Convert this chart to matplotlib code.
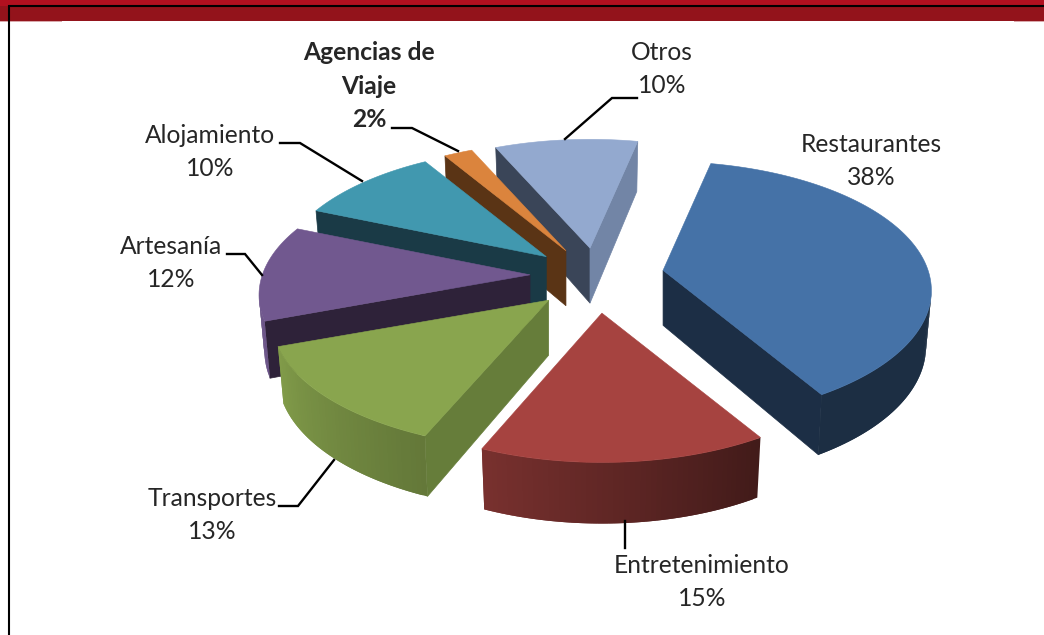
import numpy as np
import matplotlib
matplotlib.use("Agg")
import matplotlib.pyplot as plt
from matplotlib.colors import to_rgb
from matplotlib.patches import Polygon, Rectangle

plt.rcParams["font.family"] = ["Lato", "DejaVu Sans"]

# data, clockwise from the first slice
labels = ["Restaurantes", "Entretenimiento", "Transportes", "Artesanía",
          "Alojamiento", "Agencias de\nViaje", "Otros"]
values = [38, 15, 13, 12, 10, 2, 10]
top_colors = ["#4572a7", "#a64340", "#89a54e", "#71588f", "#4198af", "#db843d", "#93a9cf"]
start_wall = ["#1c2e45", "#42191a", "#667d3a", "#2e2239", "#1a3a46", "#5a3415", "#3a4558"]
end_wall = ["#1c2e45", "#42191a", "#667d3a", "#2e2239", "#1a3a46", "#5a3415", "#7285a6"]
# drawn back to front
draw_order = [6, 5, 4, 3, 2, 0, 1]
# the left slices reach a little further than the perspective model gives
x_stretch = [1, 1, 1.03, 1.01, 1, 1, 1]

# label text centre + leader line, in pixels of the 1044x635 canvas
label_pos = [(871, 161), (702, 582), (212, 515), (171, 263), (210, 152), (369, 86), (662, 69)]
leaders = [
    None,
    [(625, 521), (625, 548)],
    [(279, 506), (298, 506), (334, 460)],
    [(227, 254), (245, 254), (262, 275)],
    [(280, 143), (300, 143), (362, 181)],
    [(392, 128), (412, 128), (458, 151)],
    [(565, 139), (612, 98), (637, 98)],
]

# pie geometry
CX, CY = 597, 275.5
R, TILT, PERSP = 265, 0.475, 0.157
EXPLODE_PX = 67
DEPTH = 55
FIRST_ANGLE = 12


def ray(theta):
    # theta in degrees, clockwise from the back of the pie
    t = np.radians(theta)
    s = 1 / (1 + PERSP * np.cos(t))
    return R * np.sin(t) * s, -R * TILT * np.cos(t) * s


def depth_at(theta):
    return DEPTH / (1 + 0.1 * np.cos(np.radians(theta)))


def rim_shade(theta):
    return np.interp(theta, [90, 149, 203, 250, 290], [0.4, 0.4, 0.73, 0.95, 0.95])


fig = plt.figure(figsize=(10.44, 6.35), dpi=100)
ax = fig.add_axes([0, 0, 1, 1])
ax.set_xlim(0, 1044)
ax.set_ylim(635, 0)
ax.axis("off")

# slide header and frame
ax.add_patch(Rectangle((0, 0), 1044, 6, color="#b1101f", lw=0))
ax.add_patch(Rectangle((0, 6), 1044, 15, color="#93131b", lw=0))
ax.add_patch(Rectangle((0, 21), 62, 1.2, color="#d9a8ab", lw=0))
ax.add_patch(Rectangle((1014, 21), 30, 1.2, color="#d9a8ab", lw=0))
ax.plot([1044, 9, 9], [6, 6, 635], color="black", lw=1.5, solid_joinstyle="miter")

edges = FIRST_ANGLE + 3.6 * np.concatenate([[0], np.cumsum(values)])


def wall(ax_x, ax_y, dx, dy, theta, color):
    pts = [(ax_x, ax_y), (ax_x + dx, ax_y + dy),
           (ax_x + 0.98 * dx, ax_y + dy + depth_at(theta)), (ax_x, ax_y + DEPTH)]
    ax.add_patch(Polygon(pts, closed=True, fc=color, ec=color, lw=0.5))


for i in draw_order:
    a0, a1 = edges[i], edges[i + 1]
    mid = np.radians((a0 + a1) / 2)
    ax_x = CX + EXPLODE_PX * np.sin(mid)
    ax_y = CY + ray(np.degrees(mid))[1] * EXPLODE_PX / R
    thetas = np.linspace(a0, a1, int(max(a1 - a0, 4)) + 1)
    dx, dy = ray(thetas)
    dx = dx * x_stretch[i]

    # flat sides, only those that face the viewer
    sx, sy = ray(a0)
    ox, oy = ray(a1)
    sx, ox = sx * x_stretch[i], ox * x_stretch[i]
    cross = sx * oy - sy * ox
    if np.sign(sx) != np.sign(cross):
        wall(ax_x, ax_y, sx, sy, a0, start_wall[i])
    if np.sign(ox) != np.sign(-cross):
        wall(ax_x, ax_y, ox, oy, a1, end_wall[i])

    # curved side, strip by strip so that the shade can change
    base = np.array(to_rgb(top_colors[i]))
    for j in range(len(thetas) - 1):
        if dx[j + 1] >= dx[j]:
            continue
        k = min(j + 2, len(thetas) - 1)  # strips overlap, no seams
        col = tuple(base * rim_shade(thetas[j] % 360))
        pts = [(ax_x + dx[j], ax_y + dy[j]), (ax_x + dx[k], ax_y + dy[k]),
               (ax_x + 0.98 * dx[k], ax_y + dy[k] + depth_at(thetas[k])),
               (ax_x + 0.98 * dx[j], ax_y + dy[j] + depth_at(thetas[j]))]
        ax.add_patch(Polygon(pts, closed=True, fc=col, ec="none", lw=0))

    top = [(ax_x, ax_y)] + list(zip(ax_x + dx, ax_y + dy))
    ax.add_patch(Polygon(top, closed=True, fc=top_colors[i], ec=top_colors[i], lw=0.4))

# labels and leader lines
for i, lab in enumerate(labels):
    bold = lab.startswith("Agencias")
    ax.text(label_pos[i][0], label_pos[i][1], f"{lab}\n{values[i]}%", ha="center", va="center",
            fontsize=17.7, color="#262626", linespacing=1.55,
            fontweight="bold" if bold else "normal")
    if leaders[i]:
        xs, ys = zip(*leaders[i])
        ax.plot(xs, ys, color="black", lw=1.7, solid_joinstyle="miter")

fig.savefig("out.png", dpi=100)
